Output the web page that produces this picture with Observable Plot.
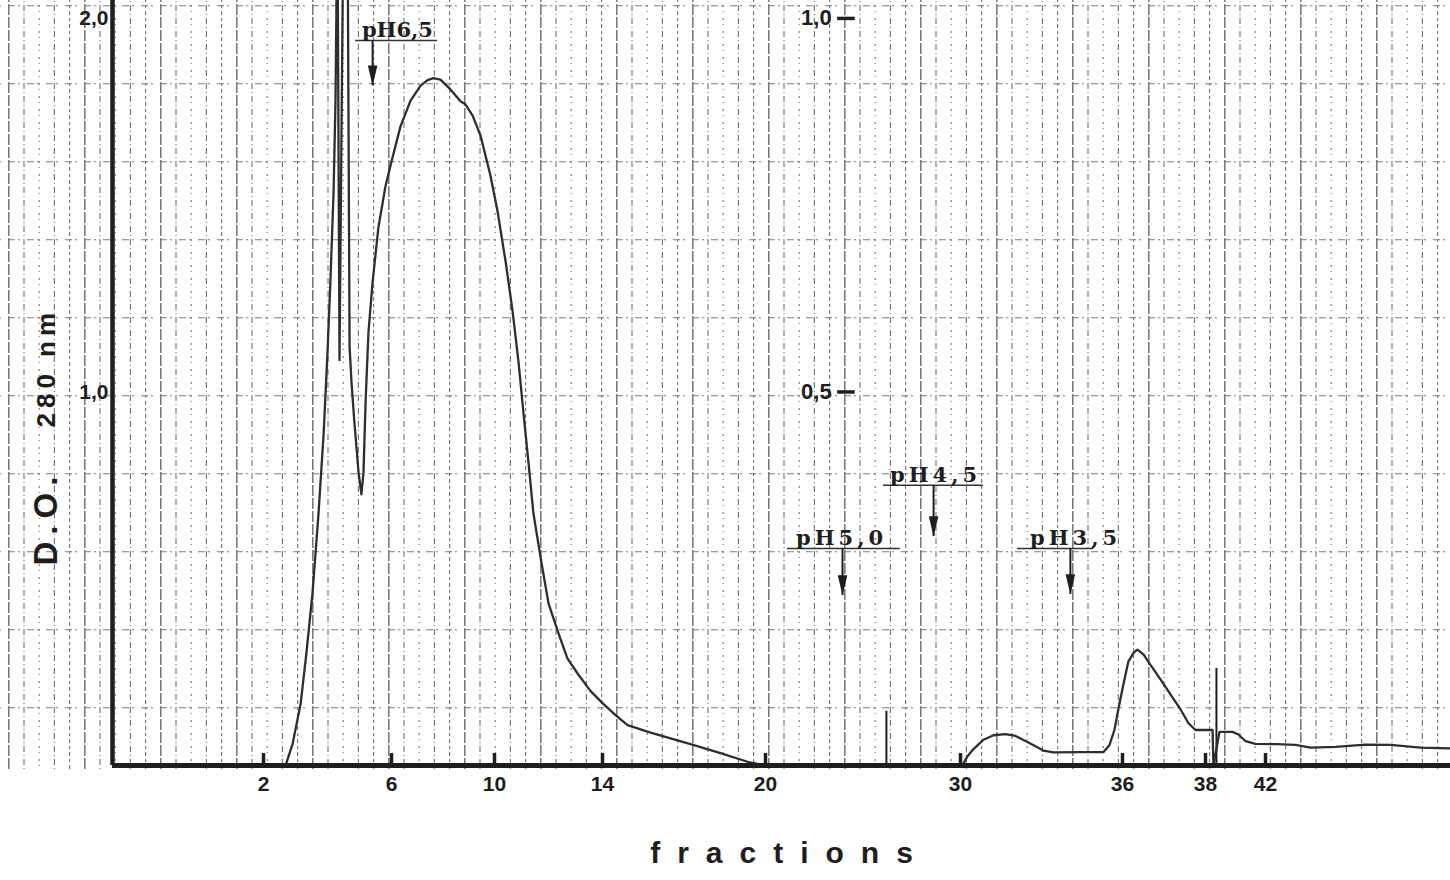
<!DOCTYPE html>
<html>
<head>
<meta charset="utf-8">
<script src="https://cdn.jsdelivr.net/npm/d3@7"></script>
<script src="https://cdn.jsdelivr.net/npm/@observablehq/plot@0.6"></script>
<style>
  html, body { margin: 0; padding: 0; background: #fff; }
  #wrap { position: relative; width: 1450px; height: 880px; overflow: hidden; }
  #grid { position: absolute; left: 0; top: 0; width: 1450px; height: 770px; }
  #chart { position: absolute; left: 0; top: 0; }
</style>
</head>
<body>
<div id="wrap"><div id="grid"></div><div id="chart"></div></div>
<script>
// ---------------- data ----------------
// elution profile: fraction number vs optical density (left scale, 0–2.0)
const fraction = [2.69, 2.91, 3.16, 3.34, 3.53, 3.72, 3.88, 4.00, 4.09, 4.19, 4.25, 4.31, 4.375, 4.50, 4.625,
  4.69, 4.75, 4.84, 4.97, 5.06, 5.125, 5.19, 5.28, 5.41, 5.59, 5.81, 6.00, 6.35, 6.74, 7.13, 7.40, 7.63,
  7.90, 8.29, 8.68, 8.87, 9.15, 9.46, 9.84, 10.11, 10.41, 10.67, 10.89, 11.07, 11.26, 11.44, 11.70, 12.00,
  12.37, 12.70, 13.07, 13.56, 14.00, 14.48, 14.92, 15.77, 17.24, 18.34, 19.34, 20.00, 30.00, 30.07, 30.26,
  30.48, 30.85, 31.22, 31.67, 32.04, 32.48, 33.07, 33.44, 34.44, 35.30, 35.52, 35.70, 35.85, 36.02, 36.14,
  36.27, 36.36, 36.51, 36.67, 36.92, 37.16, 37.40, 37.59, 37.76, 38.47, 38.53, 38.93, 39.80, 40.20, 40.67,
  41.33, 42.67, 44.00, 45.00, 46.67, 48.67, 50.33, 52.33, 54.33];
const od = [0, 0.058, 0.165, 0.30, 0.46, 0.675, 0.89, 1.106, 1.294, 1.536, 1.78, 2.3, 1.085, 2.3, 2.3,
  1.12, 1.026, 0.919, 0.785, 0.726, 0.785, 0.973, 1.16, 1.295, 1.44, 1.55, 1.617, 1.711, 1.78, 1.82, 1.835, 1.84,
  1.836, 1.81, 1.778, 1.77, 1.74, 1.686, 1.58, 1.485, 1.35, 1.216, 1.08, 0.946, 0.81, 0.676, 0.56, 0.434,
  0.354, 0.287, 0.247, 0.199, 0.167, 0.135, 0.108, 0.088, 0.057, 0.033, 0.01, 0, 0, 0, 0.025,
  0.044, 0.069, 0.081, 0.084, 0.079, 0.063, 0.040, 0.035, 0.036, 0.036, 0.055, 0.095, 0.152, 0.216, 0.278,
  0.302, 0.31, 0.297, 0.27, 0.23, 0.19, 0.15, 0.113, 0.095, 0.095, 0, 0.09, 0.09, 0.083, 0.065,
  0.058, 0.057, 0.055, 0.048, 0.05, 0.056, 0.055, 0.048, 0.046];

// axis tick labels
const fractionTicks = [2, 6, 10, 14, 20, 30, 36, 38, 42];
const leftTicks = [1.0, 2.0];          // D.O. left scale
const rightTicks = [0.5, 1.0];         // D.O. inner (half) scale
const rightScaleFactor = 2;            // inner scale value x2 = left scale value
const secondaryAxisAt = 23.7;          // fraction where the inner scale is drawn

// recorder marker lines
const markerFractions = [26.2, 38.73];
const markerTops = [0.145, 0.26];

// pH step annotations
const phLabels = ["pH6,5", "pH5,0", "pH4,5", "pH3,5"];
const phLabelFraction = [6.23, 23.8, 28.62, 34.19];
const phArrowFraction = [5.41, 23.95, 28.62, 34.07];
const phLineStart = [4.88, 21.13, 26.05, 32.11];
const phLineEnd = [7.79, 26.92, 30.85, 34.93];
const phLevel = [1.941, 0.581, 0.75, 0.581];
const phArrowTip = [1.82, 0.455, 0.613, 0.458];

// ---------------- build tables ----------------
const curve = fraction.map((f, i) => ({fraction: f, od: od[i]}));
const markers = markerFractions.map((f, i) => ({f, top: markerTops[i]}));
const ph = phLabels.map((label, i) => ({
  label, lx: phLabelFraction[i], ax: phArrowFraction[i],
  x1: phLineStart[i], x2: phLineEnd[i], level: phLevel[i], tip: phArrowTip[i]
}));
const comma = d => d.toFixed(1).replace(".", ",");

// ---------------- graph paper background (decoration) ----------------
const tile = `<svg xmlns='http://www.w3.org/2000/svg' width='76' height='78'>
<g fill='none' stroke='#5a5a5a'>
<path d='M0.8 0V78' stroke-width='1.6' stroke-dasharray='10 2 1 0'/>
<path d='M16 0V78' stroke-width='1.2' stroke-dasharray='6 3 1 3'/>
<path d='M31.2 0V78' stroke-width='1.2' stroke-dasharray='2 4 1 6'/>
<path d='M46.4 0V78' stroke-width='1.2' stroke-dasharray='6 3 1 3'/>
<path d='M61.6 0V78' stroke-width='1.2' stroke-dasharray='3 3 4 3'/>
<path d='M0 0.8H76' stroke-width='1.1' stroke-dasharray='7 3 2 7'/>
</g></svg>`;
const grid = document.getElementById("grid");
grid.style.backgroundImage = `url("data:image/svg+xml,${encodeURIComponent(tile)}")`;
grid.style.backgroundPosition = "8px 5px";
grid.style.backgroundRepeat = "repeat";
grid.style.opacity = "0.8";

// ---------------- chart ----------------
const ink = "#1e1e1e";
const sans = "Liberation Sans, Arial, sans-serif";
const serif = "DejaVu Serif, serif";

const arrowHead = {
  draw(context, size) {
    const s = Math.sqrt(size);
    context.moveTo(-0.45 * s, -1.9 * s);
    context.lineTo(0.45 * s, -1.9 * s);
    context.lineTo(0, 0);
    context.closePath();
  }
};

const chart = Plot.plot({
  width: 1450,
  height: 880,
  marginTop: 0,
  marginLeft: 112,
  marginRight: 0,
  marginBottom: 115,
  style: {background: "transparent", fontFamily: sans},
  x: {
    type: "linear",
    domain: [0, 2, 6, 10, 14, 20, 30, 36, 38, 42, 54],
    range: [112, 263, 391, 494, 602, 765, 960, 1122, 1205, 1265, 1445],
    axis: null
  },
  y: {domain: [0, 2.048], axis: null},
  marks: [
    // recorder marker lines and fraction ticks
    Plot.ruleX(markers, {x: "f", y1: 0, y2: "top", stroke: ink, strokeWidth: 2}),
    Plot.ruleX(fractionTicks, {x: d => d, y1: 0, y2: 0.032, stroke: ink, strokeWidth: 3.5}),
    // elution curve
    Plot.line(curve, {x: "fraction", y: "od", stroke: "#2e2e2e", strokeWidth: 2.3, clip: true}),
    // axes
    Plot.ruleX([0], {stroke: ink, strokeWidth: 4.5}),
    Plot.ruleY([0], {stroke: ink, strokeWidth: 5}),
    Plot.text(fractionTicks, {x: d => d, y: 0, dy: 19, text: d => String(d), fontSize: 21, fontWeight: "bold", fontFamily: sans, fill: ink}),
    Plot.text(leftTicks, {x: 0, y: d => d, dx: -4, textAnchor: "end", text: comma, fontSize: 21, fontWeight: "bold", fontFamily: sans, fill: ink}),
    // inner half scale
    Plot.ruleY(rightTicks, {y: d => d * rightScaleFactor, x1: secondaryAxisAt, x2: secondaryAxisAt + 0.9, stroke: ink, strokeWidth: 3.5}),
    Plot.text(rightTicks, {x: secondaryAxisAt, y: d => d * rightScaleFactor, dx: -6, textAnchor: "end", text: comma, fontSize: 22, fontWeight: "bold", fontFamily: sans, fill: ink}),
    // pH annotations
    Plot.ruleY(ph, {y: "level", x1: "x1", x2: "x2", stroke: "#333", strokeWidth: 1.5}),
    Plot.ruleX(ph, {x: "ax", y1: "level", y2: "tip", stroke: ink, strokeWidth: 2}),
    Plot.dot(ph, {x: "ax", y: "tip", r: 6, symbol: arrowHead, fill: ink, stroke: null}),
    Plot.text(ph, {x: "lx", y: "level", text: "label", lineAnchor: "bottom", dy: -3, fontSize: 21, fontWeight: "bold", fontFamily: serif, fill: ink}),
    // axis titles
    Plot.text(["fractions"], {text: d => d, frameAnchor: "bottom", dy: 97, fontSize: 30, fontWeight: "bold", fontFamily: sans, fill: ink}),
    Plot.text(["D.O."], {text: d => d, frameAnchor: "left", rotate: -90, dx: -66, dy: 186, fontSize: 33, fontWeight: "bold", fontFamily: sans, fill: ink}),
    Plot.text(["280 nm"], {text: d => d, frameAnchor: "left", rotate: -90, dx: -66, dy: 47, fontSize: 26, fontWeight: "bold", fontFamily: sans, fill: ink})
  ]
});
document.getElementById("chart").appendChild(chart);

// letter spacing of the typeset labels (style only)
const spacing = {"pH5,0": 4, "pH4,5": 4, "pH3,5": 4, "fractions": 17, "D.O.": 7, "280 nm": 5};
d3.select(chart).selectAll("text").each(function () {
  const s = spacing[this.textContent];
  if (s) {
    this.style.letterSpacing = s + "px";
    // compensate the trailing letter space so the label stays centred
    const t = this.getAttribute("transform") || "";
    this.setAttribute("transform", t + ` translate(${s / 2},0)`);
  }
});
</script>
</body>
</html>
